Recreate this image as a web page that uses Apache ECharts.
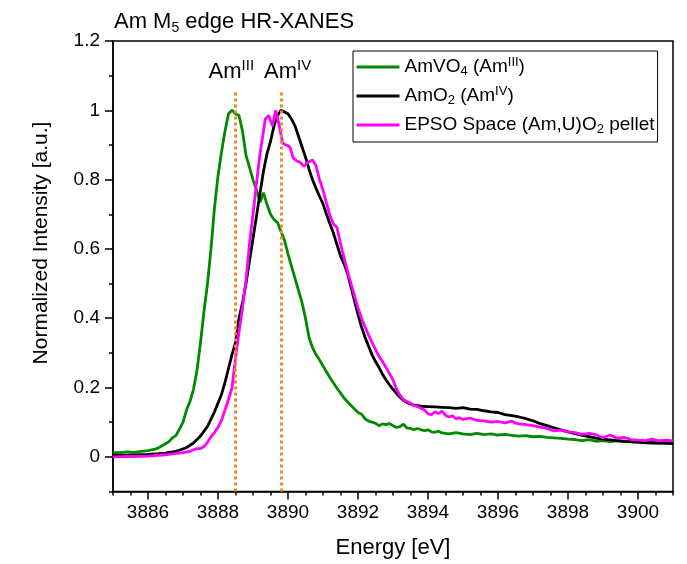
<!DOCTYPE html>
<html>
<head>
<meta charset="utf-8">
<script src="https://cdn.jsdelivr.net/npm/echarts@6/dist/echarts.min.js"></script>
<style>
html,body{margin:0;padding:0;background:#fff;}
#chart{width:687px;height:564px;}
</style>
</head>
<body>
<div id="chart"></div>
<script>
// ---------- data ----------
var titleText = 'Am M{sub|5} edge HR-XANES';
var xAxisName = 'Energy [eV]';
var yAxisName = 'Normalized Intensity [a.u.]';
var seriesNames = ['AmVO4', 'AmO2', 'EPSO'];
var legendLabels = ['AmVO{sub|4} (Am{sup|III})', 'AmO{sub|2} (Am{sup|IV})', 'EPSO Space (Am,U)O{sub|2} pellet'];
var xTickValues = [3886, 3888, 3890, 3892, 3894, 3896, 3898, 3900];
var xMinorTickValues = [3885, 3885.5, 3886.5, 3887, 3887.5, 3888.5, 3889, 3889.5, 3890.5, 3891, 3891.5, 3892.5, 3893, 3893.5, 3894.5, 3895, 3895.5, 3896.5, 3897, 3897.5, 3898.5, 3899, 3899.5, 3900.5, 3901];
var yTickValues = [0, 0.2, 0.4, 0.6, 0.8, 1.0, 1.2];
var yMinorTickValues = [-0.1, 0.1, 0.3, 0.5, 0.7, 0.9, 1.1];
var refLineEnergies = [3888.48, 3889.82];
var refLineLabels = ['Am{sup|III}', 'Am{sup|IV}'];

var amvo4Energy = [3885.0,3885.2,3885.4,3885.6,3885.8,3886.0,3886.2,3886.3,3886.4,3886.5,3886.6,3886.7,3886.8,3886.9,3887.0,3887.1,3887.2,3887.3,3887.4,3887.45,3887.5,3887.6,3887.7,3887.8,3887.9,3888.0,3888.1,3888.2,3888.3,3888.4,3888.5,3888.6,3888.7,3888.8,3888.9,3889.0,3889.1,3889.2,3889.3,3889.4,3889.5,3889.6,3889.7,3889.8,3889.9,3890.0,3890.1,3890.2,3890.3,3890.4,3890.5,3890.6,3890.7,3890.8,3890.9,3891.0,3891.2,3891.4,3891.6,3891.8,3892.0,3892.1,3892.2,3892.3,3892.4,3892.5,3892.6,3892.7,3892.8,3892.9,3893.0,3893.1,3893.2,3893.3,3893.4,3893.5,3893.6,3893.7,3893.8,3893.9,3894.0,3894.1,3894.2,3894.3,3894.4,3894.6,3894.8,3895.0,3895.2,3895.4,3895.6,3895.8,3896.0,3896.2,3896.4,3896.6,3896.8,3897.0,3897.2,3897.4,3897.6,3897.8,3898.0,3898.2,3898.4,3898.6,3898.8,3899.0,3899.2,3899.4,3899.6,3899.8,3900.0,3900.2,3900.4,3900.6,3900.8,3901.0];
var amvo4Value = [0.012,0.012,0.014,0.013,0.016,0.018,0.022,0.026,0.032,0.038,0.044,0.055,0.062,0.08,0.10,0.135,0.16,0.195,0.25,0.29,0.33,0.42,0.50,0.60,0.72,0.81,0.88,0.94,0.99,1.0,0.99,0.985,0.94,0.87,0.835,0.80,0.77,0.735,0.762,0.728,0.70,0.685,0.676,0.65,0.625,0.585,0.55,0.515,0.48,0.445,0.40,0.345,0.315,0.295,0.28,0.262,0.228,0.198,0.17,0.148,0.128,0.123,0.11,0.103,0.10,0.097,0.09,0.095,0.093,0.096,0.09,0.085,0.087,0.094,0.083,0.082,0.078,0.082,0.078,0.076,0.078,0.072,0.071,0.074,0.069,0.066,0.07,0.066,0.064,0.068,0.064,0.066,0.063,0.065,0.062,0.06,0.061,0.058,0.059,0.056,0.055,0.053,0.051,0.05,0.047,0.05,0.045,0.047,0.044,0.046,0.044,0.045,0.045,0.044,0.046,0.045,0.046,0.045];

var amo2Energy = [3885.0,3885.5,3886.0,3886.3,3886.5,3886.7,3886.9,3887.1,3887.3,3887.5,3887.7,3887.9,3888.0,3888.1,3888.2,3888.3,3888.4,3888.5,3888.6,3888.7,3888.8,3888.9,3889.0,3889.1,3889.2,3889.3,3889.4,3889.5,3889.6,3889.7,3889.8,3889.9,3890.0,3890.1,3890.2,3890.3,3890.4,3890.5,3890.6,3890.7,3890.8,3890.9,3891.0,3891.1,3891.2,3891.3,3891.4,3891.5,3891.6,3891.7,3891.8,3891.9,3892.0,3892.1,3892.2,3892.3,3892.4,3892.5,3892.6,3892.7,3892.8,3892.9,3893.0,3893.1,3893.2,3893.3,3893.4,3893.5,3893.6,3893.8,3894.0,3894.2,3894.4,3894.6,3894.8,3895.0,3895.2,3895.4,3895.6,3895.8,3896.0,3896.2,3896.4,3896.6,3896.8,3897.0,3897.2,3897.4,3897.6,3897.8,3898.0,3898.2,3898.4,3898.6,3898.8,3899.0,3899.2,3899.4,3899.6,3899.8,3900.0,3900.4,3900.8,3901.0];
var amo2Value = [0.004,0.005,0.007,0.009,0.011,0.014,0.019,0.027,0.04,0.06,0.088,0.13,0.155,0.18,0.215,0.255,0.295,0.33,0.40,0.445,0.50,0.565,0.63,0.695,0.76,0.825,0.875,0.91,0.955,0.985,1.0,0.995,0.99,0.975,0.955,0.925,0.895,0.865,0.83,0.80,0.775,0.752,0.73,0.70,0.672,0.645,0.612,0.58,0.557,0.53,0.49,0.45,0.41,0.375,0.345,0.32,0.295,0.275,0.258,0.238,0.222,0.208,0.195,0.183,0.172,0.163,0.157,0.153,0.149,0.146,0.145,0.144,0.143,0.142,0.14,0.142,0.138,0.137,0.133,0.13,0.128,0.122,0.119,0.115,0.11,0.104,0.096,0.09,0.084,0.078,0.072,0.067,0.062,0.058,0.054,0.051,0.049,0.047,0.045,0.043,0.042,0.04,0.039,0.038];

var epsoEnergy = [3885.0,3885.5,3886.0,3886.5,3886.8,3887.0,3887.2,3887.4,3887.5,3887.6,3887.7,3887.8,3887.9,3888.0,3888.1,3888.2,3888.3,3888.4,3888.5,3888.6,3888.7,3888.8,3888.9,3889.0,3889.1,3889.2,3889.3,3889.35,3889.45,3889.55,3889.65,3889.75,3889.85,3889.95,3890.05,3890.15,3890.25,3890.35,3890.45,3890.55,3890.7,3890.8,3890.9,3891.0,3891.1,3891.2,3891.3,3891.4,3891.5,3891.6,3891.7,3891.8,3891.9,3892.0,3892.1,3892.2,3892.3,3892.4,3892.5,3892.6,3892.7,3892.8,3892.9,3893.0,3893.1,3893.2,3893.3,3893.4,3893.5,3893.6,3893.7,3893.8,3893.9,3894.0,3894.1,3894.2,3894.3,3894.4,3894.5,3894.6,3894.7,3894.8,3894.9,3895.0,3895.2,3895.4,3895.6,3895.8,3896.0,3896.2,3896.4,3896.5,3896.6,3896.8,3897.0,3897.2,3897.4,3897.6,3897.8,3898.0,3898.2,3898.4,3898.6,3898.8,3899.0,3899.2,3899.4,3899.6,3899.8,3900.0,3900.2,3900.4,3900.6,3900.8,3901.0];
var epsoValue = [0.0,0.001,0.002,0.006,0.01,0.012,0.016,0.024,0.024,0.03,0.042,0.058,0.07,0.085,0.105,0.135,0.165,0.20,0.285,0.36,0.43,0.51,0.615,0.70,0.79,0.874,0.94,0.975,0.985,0.955,1.0,0.955,0.905,0.90,0.895,0.862,0.854,0.85,0.838,0.848,0.857,0.84,0.80,0.77,0.732,0.695,0.672,0.662,0.615,0.575,0.535,0.50,0.465,0.43,0.40,0.375,0.352,0.33,0.31,0.29,0.275,0.258,0.24,0.222,0.195,0.178,0.165,0.16,0.155,0.148,0.145,0.14,0.135,0.124,0.122,0.13,0.125,0.132,0.12,0.115,0.118,0.11,0.113,0.108,0.112,0.105,0.104,0.10,0.102,0.098,0.103,0.097,0.095,0.093,0.09,0.086,0.082,0.075,0.077,0.072,0.07,0.065,0.068,0.064,0.055,0.063,0.054,0.056,0.05,0.048,0.047,0.051,0.046,0.048,0.046];

// ---------- chart ----------
function pairs(xs, ys) { return xs.map(function (x, i) { return [x, ys[i]]; }); }
var FONT = '"Liberation Sans", Arial, sans-serif';
var colors = ['#008a00', '#000000', '#ff00ff'];
var refLabelPadding = [[0, 7, 0, 0], [0, 0, 0, 12]];

var chart = echarts.init(document.getElementById('chart'), null, { renderer: 'canvas' });

var baseAxis = {
  type: 'value',
  splitLine: { show: false },
  axisLine: { show: true, onZero: false, lineStyle: { color: '#000', width: 1.5 } }
};

var option = {
  animation: false,
  backgroundColor: '#fff',
  title: {
    text: titleText,
    left: 109,
    top: 4,
    textStyle: {
      fontFamily: FONT, fontSize: 22, fontWeight: 'normal', color: '#000', lineHeight: 26,
      rich: { sub: { fontFamily: FONT, fontSize: 14, color: '#000', verticalAlign: 'bottom', lineHeight: 16 } }
    }
  },
  grid: { left: 113, right: 14, top: 41, bottom: 72.5, show: true, borderColor: '#000', borderWidth: 1.5, containLabel: false },
  legend: {
    orient: 'vertical',
    left: 353,
    top: 51,
    padding: [5, 3, 6, 2],
    itemGap: 7,
    itemWidth: 43,
    itemHeight: 14,
    backgroundColor: '#fff',
    borderColor: '#000',
    borderWidth: 1,
    borderRadius: 0,
    itemStyle: { opacity: 0, borderWidth: 0 },
    lineStyle: { width: 3 },
    data: seriesNames,
    formatter: function (name) { return legendLabels[seriesNames.indexOf(name)]; },
    textStyle: {
      fontFamily: FONT, fontSize: 19, color: '#000', lineHeight: 22,
      rich: {
        sub: { fontFamily: FONT, fontSize: 13, color: '#000', verticalAlign: 'bottom', lineHeight: 12 },
        sup: { fontFamily: FONT, fontSize: 13, color: '#000', verticalAlign: 'top', lineHeight: 12 }
      }
    }
  },
  xAxis: [
    Object.assign({}, baseAxis, {
      min: 3885, max: 3901, position: 'bottom',
      name: xAxisName, nameLocation: 'middle', nameGap: 45,
      nameTextStyle: { fontFamily: FONT, fontSize: 22, color: '#000' },
      axisTick: { show: true, inside: false, length: 8, customValues: xTickValues, lineStyle: { color: '#000', width: 1.5 } },
      axisLabel: { show: true, margin: 12, customValues: xTickValues, fontFamily: FONT, fontSize: 19, color: '#000',
        formatter: function (v) { return String(Math.round(v)); } }
    }),
    Object.assign({}, baseAxis, {
      min: 3885, max: 3901, position: 'bottom', offset: 0,
      axisLine: { show: false, onZero: false },
      axisTick: { show: true, inside: false, length: 4, customValues: xMinorTickValues, lineStyle: { color: '#000', width: 1.5 } },
      axisLabel: { show: false }
    })
  ],
  yAxis: [
    Object.assign({}, baseAxis, {
      min: -0.1, max: 1.2, position: 'left',
      axisTick: { show: true, inside: false, length: 8, customValues: yTickValues, lineStyle: { color: '#000', width: 1.5 } },
      axisLabel: { show: true, margin: 13, customValues: yTickValues, fontFamily: FONT, fontSize: 19, color: '#000',
        formatter: function (v) { return String(Math.round(v * 10) / 10); } }
    }),
    Object.assign({}, baseAxis, {
      min: -0.1, max: 1.2, position: 'left', offset: 0,
      axisLine: { show: false, onZero: false },
      axisTick: { show: true, inside: false, length: 4, customValues: yMinorTickValues, lineStyle: { color: '#000', width: 1.5 } },
      axisLabel: { show: false }
    })
  ],
  graphic: [{
    type: 'text',
    x: 41, y: 243,
    rotation: Math.PI / 2,
    style: { text: yAxisName, font: '21px ' + FONT, fill: '#000', textAlign: 'center', textVerticalAlign: 'middle' }
  }],
  series: [
    {
      name: seriesNames[0], type: 'line', xAxisIndex: 0, yAxisIndex: 0,
      data: pairs(amvo4Energy, amvo4Value), symbol: 'none', showSymbol: false,
      lineStyle: { color: colors[0], width: 2.8 }, itemStyle: { color: colors[0] }, z: 3,
      markLine: {
        silent: true, symbol: 'none',
        lineStyle: { color: '#f0862e', width: 3, type: [3, 3] },
        label: {
          show: true, position: 'end', distance: 6,
          fontFamily: FONT, fontSize: 22, color: '#000', lineHeight: 26,
          rich: { sup: { fontFamily: FONT, fontSize: 15, color: '#000', verticalAlign: 'top', lineHeight: 15 } }
        },
        data: refLineEnergies.map(function (e, i) {
          return [
            { coord: [e, -0.1] },
            { coord: [e, 1.057], label: { formatter: refLineLabels[i], padding: refLabelPadding[i] } }
          ];
        })
      }
    },
    {
      name: seriesNames[1], type: 'line', xAxisIndex: 0, yAxisIndex: 0,
      data: pairs(amo2Energy, amo2Value), symbol: 'none', showSymbol: false,
      lineStyle: { color: colors[1], width: 2.8 }, itemStyle: { color: colors[1] }, z: 3
    },
    {
      name: seriesNames[2], type: 'line', xAxisIndex: 0, yAxisIndex: 0,
      data: pairs(epsoEnergy, epsoValue), symbol: 'none', showSymbol: false,
      lineStyle: { color: colors[2], width: 2.8 }, itemStyle: { color: colors[2] }, z: 3
    }
  ]
};
chart.setOption(option);
</script>
</body>
</html>
